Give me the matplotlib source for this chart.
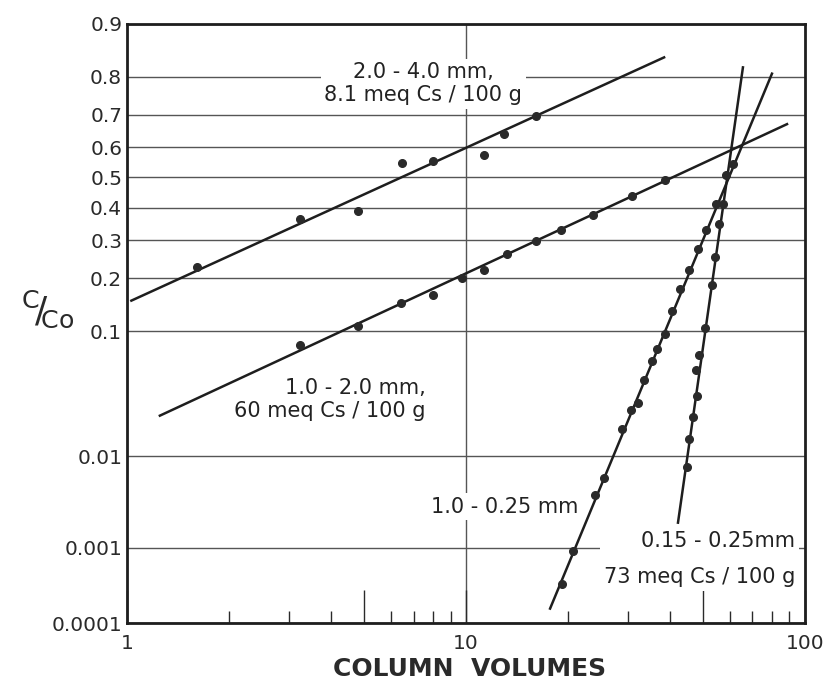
import math
import numpy as np
import matplotlib
matplotlib.use("Agg")
import matplotlib.pyplot as plt

# ---- data (column volumes, C/Co) ----
# 2.0-4.0 mm, 8.1 meq Cs/100 g
coarse_x = [1.61, 3.24, 4.80, 6.47, 8.0, 11.3, 12.9, 16.1]
coarse_y = [0.227, 0.365, 0.39, 0.547, 0.554, 0.573, 0.641, 0.696]
coarse_fit_x = [1.03, 38.4]
coarse_fit_y = [0.152, 0.842]

# 1.0-2.0 mm, 60 meq Cs/100 g
medium_x = [3.24, 4.8, 6.44, 8.0, 9.7, 11.3, 13.2, 16.1, 19.1, 23.7, 30.9, 38.6]
medium_y = [0.081, 0.108, 0.148, 0.164, 0.20, 0.219, 0.261, 0.298, 0.331, 0.378, 0.44, 0.493]
medium_fit_x = [1.25, 88.5]
medium_fit_y = [0.0234, 0.672]

# 1.0-0.25 mm
fine_x = [19.2, 20.7, 24.0, 25.5, 28.9, 30.7, 32.2, 33.5, 35.4, 36.6, 38.6,
          40.5, 42.8, 45.5, 48.3, 51.0, 54.6, 61.3]
fine_y = [0.00035, 0.00092, 0.0040, 0.0060, 0.018, 0.0263, 0.0301, 0.0452,
          0.0626, 0.076, 0.0958, 0.133, 0.177, 0.219, 0.275, 0.331, 0.413, 0.544]
fine_fit_x = [17.7, 79.9]
fine_fit_y = [0.00016, 0.807]

# 0.15-0.25 mm, 73 meq Cs/100 g
finest_x = [44.9, 45.5, 46.7, 48.0, 47.7, 48.7, 50.7, 53.2, 54.3, 55.8, 57.3, 58.5]
finest_y = [0.0078, 0.0146, 0.0229, 0.0338, 0.0538, 0.069, 0.1047, 0.184,
            0.253, 0.349, 0.413, 0.507]
finest_fit_x = [42.2, 65.6]
finest_fit_y = [0.00198, 0.821]

y_ticks = [0.0001, 0.001, 0.01, 0.1, 0.2, 0.3, 0.4, 0.5, 0.6, 0.7, 0.8, 0.9]
y_tick_labels = ["0.0001", "0.001", "0.01", "0.1", "0.2", "0.3", "0.4",
                 "0.5", "0.6", "0.7", "0.8", "0.9"]


# ---- normal probability scale ----
A = [-3.969683028665376e+01, 2.209460984245205e+02, -2.759285104469687e+02,
     1.383577518672690e+02, -3.066479806614716e+01, 2.506628277459239e+00]
B = [-5.447609879822406e+01, 1.615858368580409e+02, -1.556989798598866e+02,
     6.680131188771972e+01, -1.328068155288572e+01]
C = [-7.784894002430293e-03, -3.223964580411365e-01, -2.400758277161838e+00,
     -2.549732539343734e+00, 4.374664141464968e+00, 2.938163982698783e+00]
D = [7.784695709041462e-03, 3.224671290700398e-01, 2.445134137142996e+00,
     3.754408661907416e+00]


def _tail(q):
    num = ((((C[0] * q + C[1]) * q + C[2]) * q + C[3]) * q + C[4]) * q + C[5]
    den = (((D[0] * q + D[1]) * q + D[2]) * q + D[3]) * q + 1
    return num / den


def prob_to_z(p):
    p = np.clip(np.asarray(p, dtype=float), 1e-12, 1 - 1e-12)
    q = p - 0.5
    r = q * q
    mid = (((((A[0] * r + A[1]) * r + A[2]) * r + A[3]) * r + A[4]) * r + A[5]) * q \
        / (((((B[0] * r + B[1]) * r + B[2]) * r + B[3]) * r + B[4]) * r + 1)
    low = _tail(np.sqrt(-2 * np.log(p)))
    high = -_tail(np.sqrt(-2 * np.log(1 - p)))
    return np.where(p < 0.02425, low, np.where(p > 1 - 0.02425, high, mid))


_erf = np.vectorize(math.erf)


def z_to_prob(z):
    z = np.asarray(z, dtype=float)
    return 0.5 * (1 + _erf(z / math.sqrt(2)))


plt.rcParams['font.family'] = ['DejaVu Sans']
plt.rcParams['mathtext.default'] = 'regular'

fig = plt.figure(figsize=(8.27, 6.91), dpi=100)
ax = fig.add_axes([0.1536, 0.0984, 0.8198, 0.8669])

ax.set_xscale('log')
ax.set_yscale('function', functions=(prob_to_z, z_to_prob))
ax.set_xlim(1, 100)
ax.set_ylim(0.0001, 0.9)

ink = '#1e1e1e'
line_kw = dict(color=ink, lw=1.8, zorder=4)
dot_kw = dict(ls='none', marker='o', ms=5.5, color='#2a2a2a', zorder=5)

for fx, fy, px, py in [(coarse_fit_x, coarse_fit_y, coarse_x, coarse_y),
                       (medium_fit_x, medium_fit_y, medium_x, medium_y),
                       (fine_fit_x, fine_fit_y, fine_x, fine_y),
                       (finest_fit_x, finest_fit_y, finest_x, finest_y)]:
    ax.plot(fx, fy, **line_kw)
    ax.plot(px, py, **dot_kw)

# axes, ticks, grid
ax.set_yticks(y_ticks, y_tick_labels)
ax.yaxis.set_minor_locator(matplotlib.ticker.NullLocator())
ax.tick_params(axis='y', length=0, pad=3.5, labelsize=14.5, colors='#2a2a2a')
ax.yaxis.grid(True, color='#555555', lw=1.0, zorder=1)

ax.set_xticks([1, 5, 10, 50, 100], ['1', '', '10', '', '100'])
ax.set_xticks([2, 3, 4, 6, 7, 8, 9, 20, 30, 40, 60, 70, 80, 90], minor=True)
ax.xaxis.set_minor_formatter(matplotlib.ticker.NullFormatter())
ax.tick_params(axis='x', which='major', direction='in', length=24, width=1,
               pad=8, labelsize=14.5, colors='#2a2a2a')
ax.tick_params(axis='x', which='minor', direction='in', length=8.6, width=1,
               color='#2a2a2a')
ax.axvline(10, color='#555555', lw=1.0, zorder=1)

for s in ax.spines.values():
    s.set_linewidth(2)
    s.set_color(ink)

# curve labels
box = dict(facecolor='white', edgecolor='none', pad=2.5)
txt_kw = dict(fontsize=15, color='#222222', zorder=3, bbox=box)
ax.text(7.47, 0.783, "2.0 - 4.0 mm,\n8.1 meq Cs / 100 g", ha='center', va='center',
        multialignment='center', **txt_kw)
ax.text(3.97, 0.032, "1.0 - 2.0 mm,\n60 meq Cs / 100 g", ha='center', va='center',
        multialignment='right', **txt_kw)
ax.text(13.0, 0.0030, "1.0 - 0.25 mm", ha='center', va='center', **txt_kw)
ax.text(93.5, 0.00072, "0.15 - 0.25mm\n73 meq Cs / 100 g", ha='right', va='center',
        multialignment='right', linespacing=2.0, **txt_kw)

fig.text(0.568, 0.015, "COLUMN  VOLUMES", fontsize=18, fontweight='bold',
         ha='center', va='bottom', color='#2a2a2a')
fig.text(0.058, 0.553, r'$^{C}\!/\!_{Co}$', fontsize=26, ha='center', va='center',
         color='#2a2a2a')

fig.savefig("out.png", dpi=100, facecolor='white')
